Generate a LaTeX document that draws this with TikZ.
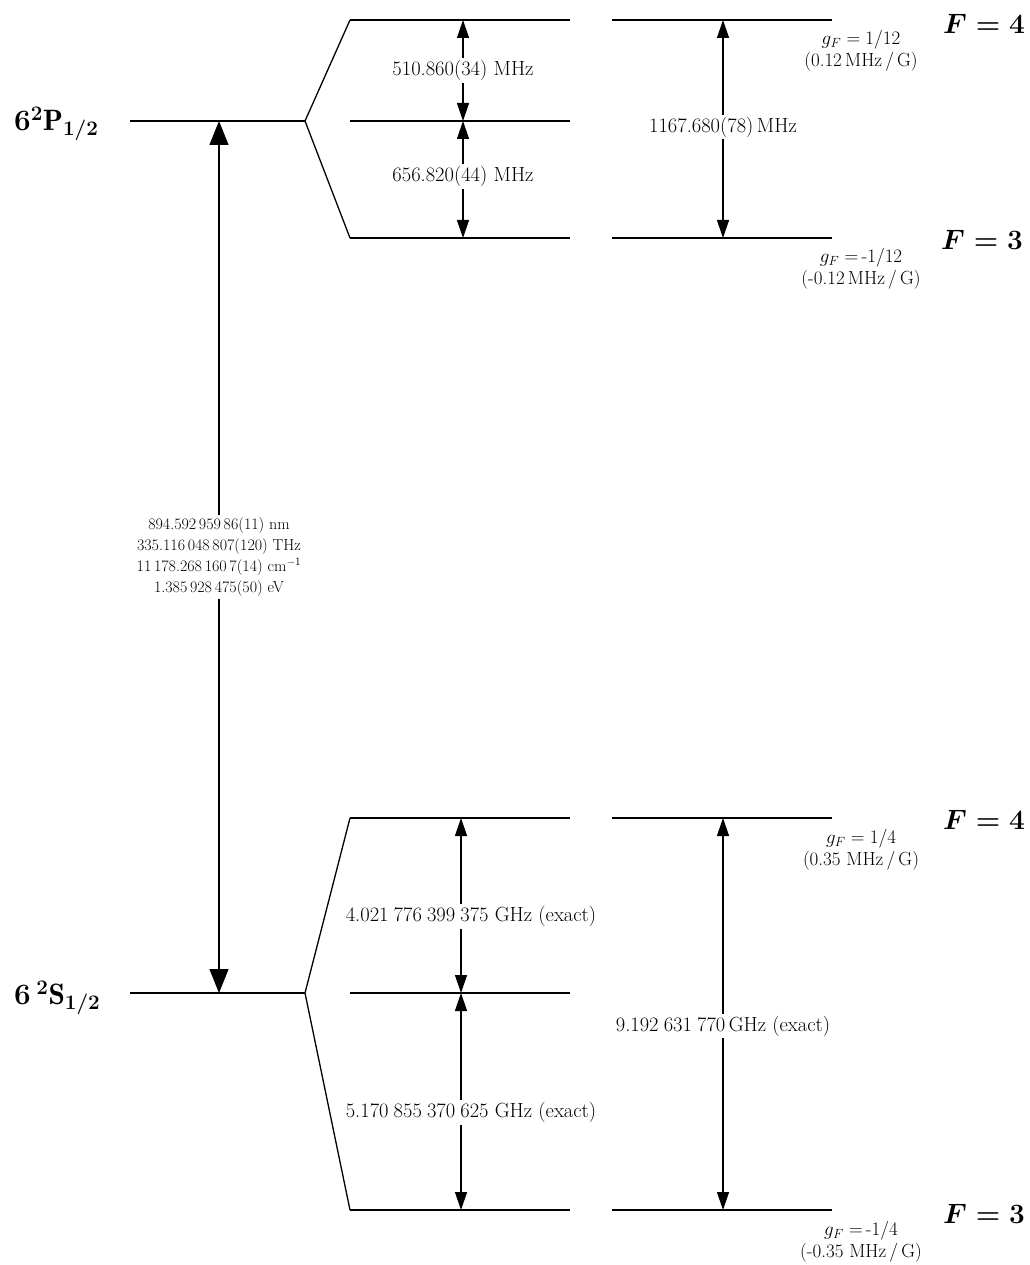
\RequirePackage{fix-cm}
\documentclass[tikz,border=0pt]{standalone}
\usepackage{fontspec}
\usetikzlibrary{arrows.meta}
\newcommand\grp{\hspace{0.25em}}
\begin{document}
\begin{tikzpicture}[x=1pt,y=-1pt,
  lvl/.style={line width=1.3pt},
  bigarr/.style={line width=1.3pt,>={Triangle[width=19pt,length=24pt]},<->},
  smarr/.style={line width=1.3pt,>={Triangle[width=12pt,length=18pt]},<->},
  lab/.style={fill=white,inner sep=2pt,font=\fontsize{20.5}{23}\selectfont},
  tlab/.style={fill=white,inner sep=3pt,align=center,font=\fontsize{16}{21}\selectfont},
  glab/.style={align=center,inner sep=0pt,font=\fontsize{19}{22}\selectfont},
  flab/.style={inner sep=0pt,font=\fontsize{28}{32}\selectfont\boldmath},
  jlab/.style={inner sep=0pt,font=\fontsize{29.5}{34}\selectfont\boldmath}]
\useasboundingbox (0,0) rectangle (1029,1265);

% ---------- P_{1/2} manifold ----------
\coordinate (P0) at (130,121);
\coordinate (Pv) at (305,121);
\coordinate (PA4) at (350,20);  \coordinate (PB4) at (570,20);
\coordinate (PAm) at (350,121); \coordinate (PBm) at (570,121);
\coordinate (PA3) at (350,238); \coordinate (PB3) at (570,238);
\coordinate (PC4) at (612,20);  \coordinate (PD4) at (832,20);
\coordinate (PC3) at (612,238); \coordinate (PD3) at (832,238);
\draw[lvl] (P0) -- (Pv);
\draw[lvl] (PA4) -- (Pv) -- (PA3);
\draw[lvl] (PA4) -- (PB4);
\draw[lvl] (PAm) -- (PBm);
\draw[lvl] (PA3) -- (PB3);
\draw[lvl] (PC4) -- (PD4);
\draw[lvl] (PC3) -- (PD3);

\coordinate (pm4) at (463,20);
\coordinate (pmm) at (463,121);
\coordinate (pm3) at (463,238);
\coordinate (pr4) at (723,20);
\coordinate (pr3) at (723,238);
\draw[smarr] (pm4) -- node[lab]{510.860(34) MHz} (pmm);
\draw[smarr] (pmm) -- node[lab,yshift=3pt]{656.820(44) MHz} (pm3);
\draw[smarr] (pr4) -- node[lab,yshift=2pt]{1167.680(78)\,MHz} (pr3);

\node[jlab,anchor=west] (Plab) at (14,124) {$6^2\mathrm{P}_{1/2}$};
\node[flab] (PF4) at (984,24) {$F=4$};
\node[flab] (PF3) at (982,240) {$F=3$};
\node[glab] (PgF4) at (861,51) {$g_F=1/12$\\(0.12\,MHz\,/\,G)};
\node[glab] (PgF3) at (861,269) {$g_F=$\,-1/12\\(-0.12\,MHz\,/\,G)};

% ---------- S_{1/2} manifold ----------
\coordinate (S0) at (130,993);
\coordinate (Sv) at (305,993);
\coordinate (SA4) at (350,818);  \coordinate (SB4) at (570,818);
\coordinate (SAm) at (350,993);  \coordinate (SBm) at (570,993);
\coordinate (SA3) at (350,1210); \coordinate (SB3) at (570,1210);
\coordinate (SC4) at (612,818);  \coordinate (SD4) at (832,818);
\coordinate (SC3) at (612,1210); \coordinate (SD3) at (832,1210);
\draw[lvl] (S0) -- (Sv);
\draw[lvl] (SA4) -- (Sv) -- (SA3);
\draw[lvl] (SA4) -- (SB4);
\draw[lvl] (SAm) -- (SBm);
\draw[lvl] (SA3) -- (SB3);
\draw[lvl] (SC4) -- (SD4);
\draw[lvl] (SC3) -- (SD3);

\coordinate (sm4) at (461,818);
\coordinate (smm) at (461,993);
\coordinate (sm3) at (461,1210);
\coordinate (sr4) at (723,818);
\coordinate (sr3) at (723,1210);
\draw[smarr] (sm4) -- node[lab,xshift=10pt,yshift=-11pt]{4.021\grp776\grp399\grp375 GHz (exact)} (smm);
\draw[smarr] (smm) -- node[lab,xshift=10pt,yshift=-11pt]{5.170\grp855\grp370\grp625 GHz (exact)} (sm3);
\draw[smarr] (sr4) -- node[lab,yshift=-12pt]{9.192\grp631\grp770\,GHz (exact)} (sr3);

\node[jlab,anchor=west] (Slab) at (14,998) {$6\,^2\mathrm{S}_{1/2}$};
\node[flab] (SF4) at (984,820) {$F=4$};
\node[flab] (SF3) at (984,1214) {$F=3$};
\node[glab] (SgF4) at (861,850) {$g_F=1/4$\\(0.35 MHz\,/\,G)};
\node[glab] (SgF3) at (861,1242) {$g_F=$\,-1/4\\(-0.35 MHz\,/\,G)};

% ---------- D1 transition ----------
\coordinate (tP) at (219,121);
\coordinate (tS) at (219,993);
\draw[bigarr] (tP) -- node[tlab]{894.592\,959\,86(11) nm\\335.116\,048\,807(120) THz\\11\,178.268\,160\,7(14) cm$^{-1}$\\1.385\,928\,475(50) eV} (tS);
\end{tikzpicture}
\end{document}
